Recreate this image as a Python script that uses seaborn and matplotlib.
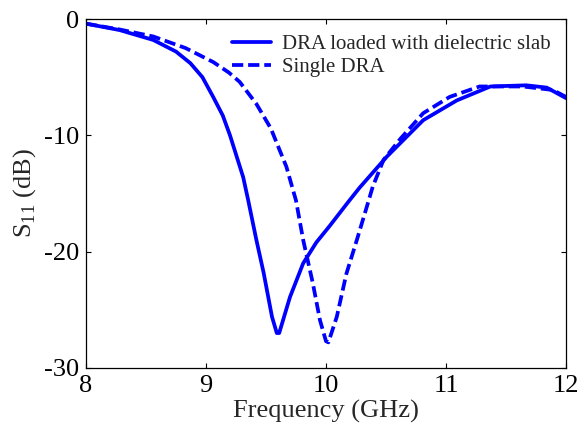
import numpy as np
import pandas as pd
import seaborn as sns
import matplotlib.pyplot as plt

# S11 of the DRA loaded with dielectric slab (solid)
freq_slab = [8.0, 8.28, 8.56, 8.75, 8.87, 8.97, 9.06, 9.14, 9.2, 9.31, 9.35, 9.42,
             9.48, 9.55, 9.59, 9.61, 9.7, 9.81, 9.92, 10.03, 10.18, 10.28, 10.51,
             10.81, 11.09, 11.37, 11.67, 11.84, 12.0]
s11_slab = [-0.4, -0.95, -1.8, -2.8, -3.8, -5.0, -6.7, -8.3, -10.0, -13.6, -15.5, -19.0,
            -21.8, -25.6, -27.0, -27.0, -23.9, -21.0, -19.2, -17.8, -15.8, -14.5, -11.8,
            -8.7, -7.0, -5.8, -5.7, -5.9, -6.8]

# S11 of the single DRA (dashed)
freq_single = [8.0, 8.28, 8.56, 8.83, 9.06, 9.19, 9.28, 9.42, 9.54, 9.67, 9.75, 9.81,
               9.89, 9.95, 10.0, 10.02, 10.09, 10.17, 10.26, 10.35, 10.39, 10.48,
               10.62, 10.81, 11.03, 11.28, 11.64, 11.89, 12.0]
s11_single = [-0.4, -0.9, -1.5, -2.5, -3.7, -4.6, -5.4, -7.3, -9.4, -12.7, -15.6, -19.0,
              -22.7, -25.9, -27.7, -27.8, -25.6, -21.9, -18.9, -15.8, -14.4, -12.1,
              -10.3, -8.1, -6.7, -5.8, -5.8, -6.1, -6.7]

labels = ['DRA loaded with dielectric slab', 'Single DRA']
x_ticks = [8, 9, 10, 11, 12]
y_ticks = [0, -10, -20, -30]

sns.set_style('ticks')
plt.rcParams['font.family'] = ['Liberation Serif', 'DejaVu Serif']
plt.rcParams['mathtext.fontset'] = 'custom'
plt.rcParams['mathtext.rm'] = 'Liberation Serif'
plt.rcParams['axes.unicode_minus'] = False

fig = plt.figure(figsize=(5.85, 4.37), dpi=100)
ax = fig.add_axes([0.147, 0.158, 0.8205, 0.7985])

# draw both curves
sns.lineplot(x=freq_slab, y=s11_slab, ax=ax, color='#0000ff', lw=2.7,
             label=labels[0], sort=False, solid_joinstyle='round')
sns.lineplot(x=freq_single, y=s11_single, ax=ax, color='#0000ff', lw=2.7,
             linestyle=(0, (3, 1.3)), label=labels[1], sort=False)

ax.set_xlim(8, 12)
ax.set_ylim(-30, 0)
ax.set_xticks(x_ticks)
ax.set_yticks(y_ticks)
ax.tick_params(direction='in', length=3.5, width=0.8, top=True, right=True,
               labelsize=19, pad=5, colors='black')
for s in ax.spines.values():
    s.set_linewidth(0.9)
    s.set_color('black')

ax.set_xlabel('Frequency (GHz)', fontsize=19, labelpad=2)
ax.set_ylabel(r'S$_{\mathrm{11}}$ (dB)', fontsize=19, labelpad=4)

ax.legend(loc='upper left', bbox_to_anchor=(0.304, 0.955), frameon=False,
          fontsize=15, handlelength=1.9, handletextpad=0.5, labelspacing=0.15,
          borderpad=0, borderaxespad=0)

plt.savefig('out.png', dpi=100)
